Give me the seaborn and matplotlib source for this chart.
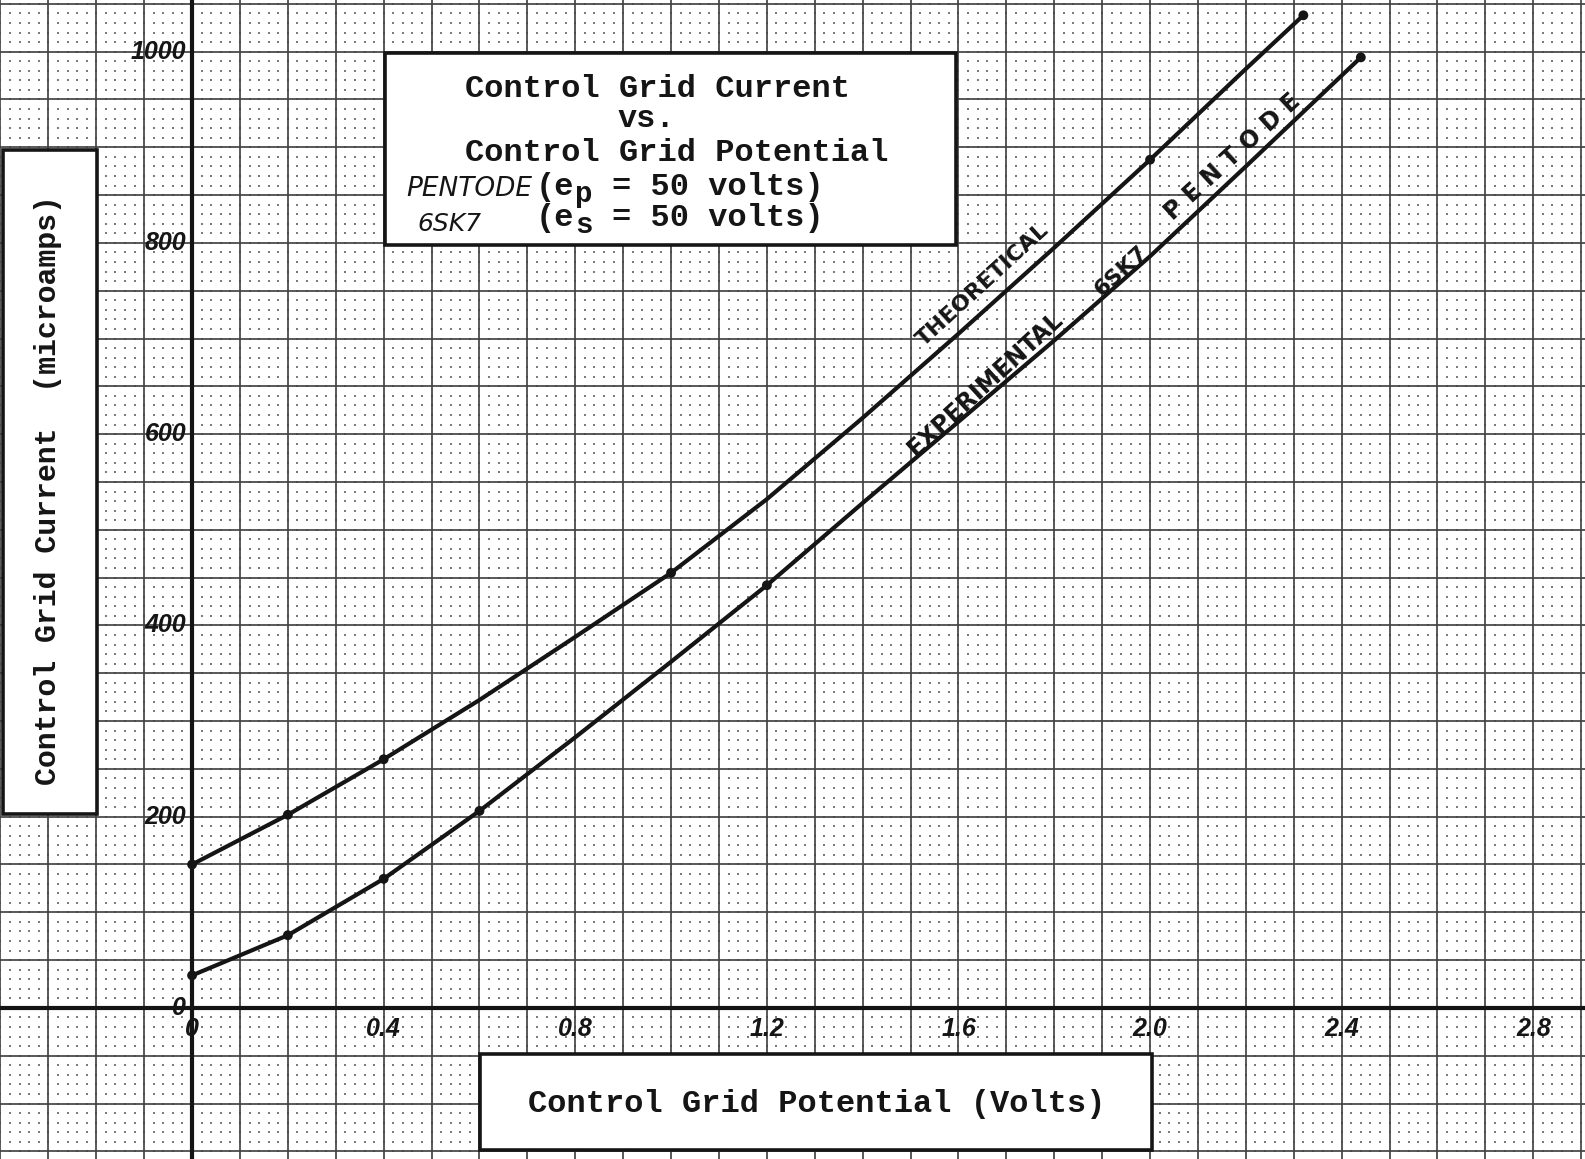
import numpy as np
import pandas as pd
import matplotlib
matplotlib.use("Agg")
import matplotlib.pyplot as plt
import seaborn as sns
from matplotlib.patches import Rectangle

# Control grid potential (volts) and control grid current (microamps)
theo_volts = [0.0, 0.2, 0.4, 0.6, 0.8, 1.0, 1.2, 1.4, 1.6, 1.8, 2.0, 2.2, 2.32]
theo_current = [150, 202, 260, 322, 388, 455, 532, 617, 705, 795, 887, 982, 1038]
exp_volts = [0.0, 0.2, 0.4, 0.6, 0.8, 1.0, 1.2, 1.4, 1.6, 1.8, 2.0, 2.2, 2.44]
exp_current = [34, 76, 135, 206, 283, 362, 442, 528, 613, 698, 786, 880, 994]

# readings that are plotted as dots on each curve
theo_marked = [0.0, 0.2, 0.4, 1.0, 2.0, 2.32]
exp_marked = [0.0, 0.2, 0.4, 0.6, 1.2, 2.44]

x_ticks = [0.0, 0.4, 0.8, 1.2, 1.6, 2.0, 2.4, 2.8]
x_tick_labels = ["0", "0.4", "0.8", "1.2", "1.6", "2.0", "2.4", "2.8"]
y_ticks = [0, 200, 400, 600, 800, 1000]
y_tick_labels = ["0", "200", "400", "600", "800", "1000"]

W, H = 1585, 1159
sns.set_style("white")
plt.rcParams["font.family"] = ["DejaVu Sans"]

fig = plt.figure(figsize=(W / 100, H / 100), dpi=100)
ax = fig.add_axes([0, 0, 1, 1])
ax.set_xlim(-0.401, 2.908)
ax.set_ylim(-158, 1054)
for s in ax.spines.values():
    s.set_visible(False)
ax.set_xticks([])
ax.set_yticks([])


def fpos(px, py):
    """pixel position on the sheet -> axes fraction"""
    return px / W, 1 - py / H


# --- graph paper -----------------------------------------------------------
fine_x = np.round(np.arange(-0.40, 2.921, 0.02), 3)
fine_y = np.arange(-150, 1061, 10)
gx, gy = np.meshgrid(fine_x, fine_y)
ax.scatter(gx.ravel(), gy.ravel(), s=4, c="#7a7a7a", marker="s",
           linewidths=0, zorder=1)
for v in np.round(np.arange(-0.4, 2.95, 0.1), 2):
    ax.axvline(v, color="#444444", lw=1.25, zorder=1.5)
for c in np.arange(-150, 1061, 50):
    ax.axhline(c, color="#444444", lw=1.25, zorder=1.5)
ax.axhline(0, color="#141414", lw=3.0, zorder=2)
ax.axvline(0, color="#141414", lw=3.0, zorder=2)

# --- curves ----------------------------------------------------------------
theo = pd.DataFrame({"volts": theo_volts, "current": theo_current})
expt = pd.DataFrame({"volts": exp_volts, "current": exp_current})
for df in (theo, expt):
    sns.lineplot(data=df, x="volts", y="current", ax=ax, color="#151515",
                 lw=3.0, sort=True, estimator=None, zorder=4)
sns.scatterplot(data=theo[theo["volts"].isin(theo_marked)], x="volts", y="current",
                ax=ax, color="#151515", s=50, edgecolor="none", zorder=5)
sns.scatterplot(data=expt[expt["volts"].isin(exp_marked)], x="volts", y="current",
                ax=ax, color="#151515", s=50, edgecolor="none", zorder=5)
ax.set_xlabel("")
ax.set_ylabel("")

# --- hand-lettered scale numbers -----------------------------------------
num_font = dict(family="Liberation Sans", style="italic", weight="bold",
                fontsize=18, color="#151515", zorder=6)
for v, lab in zip(x_ticks, x_tick_labels):
    ax.text(v, -22, lab, ha="center", va="center", **num_font)
for v, lab in zip(y_ticks, y_tick_labels):
    ax.text(-0.012, v, lab, ha="right", va="center", **num_font)

# --- hand-lettered curve names --------------------------------------------
hand = dict(family="DejaVu Sans", weight="bold", color="#151515",
            rotation=42.5, rotation_mode="anchor", ha="center", va="center", zorder=6)
ax.text(1.651, 756, "THEORETICAL", fontsize=16, **hand)
ax.text(1.656, 653, "EXPERIMENTAL", fontsize=17, **hand)
ax.text(1.940, 771, "6SK7", fontsize=16, **hand)
ax.text(2.173, 890, "P E N T O D E", fontsize=17, **hand)

# --- typed boxes ------------------------------------------------------------
def box(x0, y0, x1, y1):
    ax.add_patch(Rectangle(fpos(x0, y1), (x1 - x0) / W, (y1 - y0) / H,
                           transform=ax.transAxes, facecolor="white",
                           edgecolor="#151515", lw=2.6, zorder=7))


box(385, 53, 956, 245)
box(3, 150, 97, 814)
box(480, 1054, 1152, 1150)

typed = dict(family="Liberation Mono", weight="bold", color="#151515", zorder=8,
             transform=ax.transAxes)
cw = 19.1  # typewriter pitch in pixels

ax.text(*fpos(465, 97), "Control Grid Current", fontsize=23, ha="left",
        va="baseline", **typed)
ax.text(*fpos(618, 127), "vs.", fontsize=23, ha="left", va="baseline", **typed)
ax.text(*fpos(465, 161), "Control Grid Potential", fontsize=23, ha="left",
        va="baseline", **typed)
for base, sub in ((195, "p"), (226, "s")):
    ax.text(*fpos(536, base), "(e", fontsize=23, ha="left",
            va="baseline", **typed)
    ax.text(*fpos(536 + 2 * cw + 1, base + 7), sub, fontsize=21, ha="left",
            va="baseline", **typed)
    ax.text(*fpos(536 + 4 * cw, base), "= 50 volts)", fontsize=23, ha="left",
            va="baseline", **typed)

ax.text(*fpos(469, 189), "PENTODE", fontsize=19, style="italic", ha="center",
        va="center", family="DejaVu Sans", color="#151515", zorder=8,
        transform=ax.transAxes)
ax.text(*fpos(449, 224), "6SK7", fontsize=18, style="italic", ha="center",
        va="center", family="DejaVu Sans", color="#151515", zorder=8,
        transform=ax.transAxes)

ax.text(*fpos(48, 490), "Control Grid Current  (microamps)", fontsize=21.5,
        rotation=90, ha="center", va="center", **typed)
ax.text(*fpos(817, 1104), "Control Grid Potential (Volts)", fontsize=23,
        ha="center", va="center", **typed)

fig.savefig("out.png", dpi=100, facecolor="white")
